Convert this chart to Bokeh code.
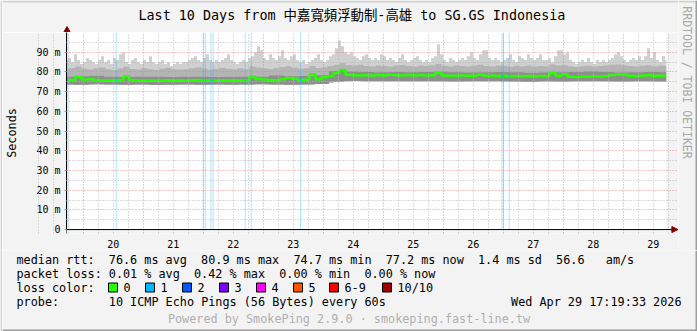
import numpy as np
from bokeh.plotting import figure
from bokeh.layouts import row, column
from bokeh.models import Range1d, FixedTicker, Label, Arrow, NormalHead, Span
from bokeh.embed import file_html
from bokeh.resources import INLINE

# ---------------- data ----------------
T_START = 19.7215          # Apr 19 17:19
T_END = 29.7215            # Apr 29 17:19

# top of the smoke (max ping), one value every 0.05 day
rtt_max = [86, 87, 85, 89, 86, 84, 85, 87, 86, 85, 84, 86, 88, 85, 86, 84, 87, 86, 89, 90,
           85, 84, 86, 87, 85, 84, 86, 85, 88, 85, 84, 85, 86, 84, 85, 83, 84, 85, 84, 85,
           85, 86, 87, 88, 86, 85, 87, 89, 86, 85, 86, 85, 86, 87, 89, 86, 85, 84, 85, 86,
           85, 87, 88, 90, 93, 91, 87, 86, 89, 87, 86, 88, 91, 87, 86, 88, 89, 86, 85, 86,
           84, 85, 86, 87, 89, 86, 85, 86, 88, 89, 92, 96, 93, 90, 89, 90, 88, 87, 86, 88,
           89, 87, 86, 87, 86, 89, 88, 86, 87, 86, 85, 87, 89, 86, 85, 86, 87, 88, 86, 85,
           86, 85, 87, 88, 94, 89, 86, 85, 87, 86, 85, 86, 87, 86, 88, 90, 87, 86, 89, 91,
           91, 87, 86, 87, 86, 85, 86, 87, 89, 86, 85, 88, 87, 86, 89, 87, 86, 87, 89, 86,
           86, 87, 85, 88, 91, 91, 89, 90, 86, 85, 84, 85, 86, 85, 87, 85, 84, 86, 85, 86,
           85, 86, 87, 89, 90, 88, 86, 85, 86, 87, 86, 88, 86, 88, 92, 87, 90, 86, 85, 88, 86]

# top of the medium smoke, one value every 0.1 day
smoke_hi = [81.5, 82.0, 82.8, 81.6, 81.2, 81.8, 82.3, 81.4, 81.0, 81.7,
            82.6, 81.5, 81.2, 81.9, 81.3, 81.0, 81.6, 82.1, 81.4, 81.2,
            81.3, 81.8, 82.4, 81.7, 81.2, 81.5, 82.0, 81.6, 81.3, 81.9,
            81.4, 82.8, 82.3, 81.8, 81.5, 82.0, 82.5, 82.9, 82.2, 81.6,
            81.8, 83.0, 82.0, 82.4, 83.0, 83.6, 84.5, 83.5, 83.2, 83.6,
            83.0, 82.8, 83.3, 83.0, 82.7, 83.2, 83.5, 83.0, 82.8, 83.3,
            83.0, 83.4, 84.0, 83.1, 82.8, 83.3, 83.0, 82.7, 83.1, 83.6,
            83.0, 82.8, 83.2, 83.0, 82.6, 83.1, 82.9, 83.3, 82.8, 83.0,
            82.9, 83.8, 83.2, 83.5, 82.7, 82.5, 82.9, 83.1, 82.7, 83.0,
            83.2, 83.6, 83.8, 83.4, 83.0, 82.8, 83.1, 83.4, 82.9, 83.2, 83.0]

# top of the dark smoke and bottom of the smoke, one value every 0.25 day
smoke_mid = [77.6, 77.8, 78.0, 77.5, 77.4, 77.6, 77.5, 77.4, 77.5, 77.6,
             77.4, 77.5, 77.5, 77.6, 78.2, 77.8, 77.9, 78.3, 80.5, 80.2,
             79.9, 79.8, 80.0, 79.8, 79.9, 80.1, 79.8, 79.7, 79.8, 79.9,
             79.8, 79.6, 79.7, 79.8, 80.0, 80.2, 79.9, 79.7, 79.8, 79.9, 79.8]
smoke_lo = [73.6, 73.5, 73.7, 73.6, 73.5, 73.6, 73.4, 73.5, 73.6, 73.5,
            73.6, 73.5, 73.6, 73.7, 73.6, 73.5, 73.6, 73.9, 75.0, 75.4,
            75.3, 75.2, 75.3, 75.2, 75.3, 75.2, 75.1, 75.2, 75.3, 75.2,
            75.1, 75.0, 75.2, 75.1, 75.2, 75.3, 75.2, 75.1, 75.2, 75.2, 75.1]

# median rtt, one value every 0.1 day
median_rtt = [75.8, 75.9, 77.5, 76.2, 76.3, 75.9, 75.6, 75.6, 75.7, 75.9,
              77.8, 75.8, 75.6, 75.5, 75.6, 75.5, 75.7, 75.8, 75.6, 75.6,
              75.7, 75.8, 75.9, 75.8, 75.6, 75.7, 75.8, 75.7, 75.8, 75.7,
              75.6, 77.6, 76.4, 76.1, 75.9, 75.8, 76.3, 76.9, 76.5, 75.9,
              76.0, 78.8, 76.3, 77.3, 77.9, 79.5, 81.0, 78.6, 78.3, 78.2,
              78.3, 78.2, 78.4, 78.3, 78.5, 78.3, 78.2, 78.4, 78.3, 78.4,
              78.2, 78.3, 79.6, 78.2, 78.1, 78.0, 78.2, 78.1, 78.0, 78.6,
              78.1, 78.0, 77.9, 78.0, 77.8, 77.9, 77.8, 77.9, 77.8, 77.9,
              77.9, 79.4, 78.0, 78.8, 77.5, 77.4, 77.5, 77.6, 77.8, 77.7,
              77.9, 78.4, 78.7, 78.6, 78.1, 77.9, 78.0, 78.3, 78.0, 78.1, 78.0]

# samples with packet loss (1/10)
loss_times = [19.745, 20.55, 22.00, 22.035, 22.13, 22.165, 22.70, 22.80, 23.62, 26.98, 27.005, 27.10]
loss_median = [75.8, 75.6, 75.8, 75.8, 75.6, 75.7, 75.7, 75.6, 76.0, 78.0, 78.0, 77.9]

day_ticks = [20, 21, 22, 23, 24, 25, 26, 27, 28, 29]
day_labels = ["20", "21", "22", "23", "24", "25", "26", "27", "28", "29"]
rtt_ticks = [0, 10, 20, 30, 40, 50, 60, 70, 80, 90]
rtt_labels = ["0", "10 m", "20 m", "30 m", "40 m", "50 m", "60 m", "70 m", "80 m", "90 m"]

title_text = "Last 10 Days from 中嘉寬頻浮動制-高雄 to SG.GS Indonesia"
rtt_stats = ["median rtt:", "76.6 ms avg", "80.9 ms max", "74.7 ms min", "77.2 ms now",
             "1.4 ms sd", "56.6", "am/s"]
loss_stats = ["packet loss:", "0.01 % avg", "0.42 % max", "0.00 % min", "0.00 % now"]
loss_names = ["0", "1", "2", "3", "4", "5", "6-9", "10/10"]
loss_colors = ["#26ff00", "#00b8ff", "#0059ff", "#7e00ff", "#ff00ff", "#ff5500", "#ff0000", "#a10000"]
probe_text = "10 ICMP Echo Pings (56 Bytes) every 60s"
date_text = "Wed Apr 29 17:19:33 2026"
footer_text = "Powered by SmokePing 2.9.0 · smokeping.fast-line.tw"
side_text = "RRDTOOL / TOBI OETIKER"

# ---------------- styling / layout positions ----------------
MONO = "DejaVu Sans Mono, Noto Sans CJK TC"
BG = "#f3f3f3"
SHADE_A = "#d2d2d2"
SHADE_B = "#9e9e9e"
TXT = "11.8px"
CHAR_W = 7.1          # monospace column width of the legend text
TEXT_X0 = 16
rtt_stats_col = [0, 13, 26, 39, 52, 65, 76, 83]
loss_stats_col = [0, 13, 25, 37, 49]
loss_box_x = np.array([108, 145, 182, 219, 256, 293, 329, 382])


def col_x(c):
    return TEXT_X0 + CHAR_W * c


def pixel_fig(w, h, x0, x1, y0, y1):
    """A figure whose data coordinates are page pixels (y downwards)."""
    f = figure(width=w, height=h, x_range=Range1d(x0, x1), y_range=Range1d(y1, y0),
               output_backend="svg", toolbar_location=None, min_border=0,
               x_axis_location=None, y_axis_location=None, frame_align=False,
               background_fill_color=BG, border_fill_color=BG, outline_line_color=None)
    f.grid.visible = False
    return f


def label(f, x, y, s, size=TXT, color="black", align="left", angle=0.0):
    f.add_layout(Label(x=x, y=y, text=s, text_font=MONO, text_font_size=size,
                       text_color=color, text_align=align, text_baseline="middle", angle=angle))


# ---------------- main chart ----------------
main = figure(width=676, height=218, x_range=Range1d(T_START, T_END + 0.2), y_range=Range1d(-2, 100),
              output_backend="svg", toolbar_location=None, frame_align=False,
              min_border_left=64, min_border_right=0, min_border_top=0, min_border_bottom=13,
              background_fill_color="white", border_fill_color=BG, outline_line_color=None)

t_max = T_START + 0.05 * np.arange(len(rtt_max))
t_hi = T_START + 0.1 * np.arange(len(smoke_hi))
t_mid = T_START + 0.25 * np.arange(len(smoke_mid))
t_med = T_START + 0.1 * np.arange(len(median_rtt))

lo_on_max = np.interp(t_max, t_mid, smoke_lo)
lo_on_hi = np.interp(t_hi, t_mid, smoke_lo)
main.varea_step(x=t_max, y1=lo_on_max, y2=rtt_max, step_mode="center", fill_color="#d0d0d0")
main.varea_step(x=t_hi, y1=lo_on_hi, y2=smoke_hi, step_mode="center", fill_color="#b4b4b4")
main.varea_step(x=t_mid, y1=smoke_lo, y2=smoke_mid, step_mode="center", fill_color="#8e8e8e")

main.vbar(x=loss_times, width=1 / 60, bottom=0, top=100, fill_color="#00b8ff", fill_alpha=0.35,
          line_color=None)

main.step(x=t_med, y=median_rtt, mode="center", line_color="#26ff00", line_width=2.5)
main.segment(x0=np.array(loss_times) - 1 / 120, x1=np.array(loss_times) + 1 / 120,
             y0=loss_median, y1=loss_median, line_color="#00b8ff", line_width=2.5)

# axes
main.xaxis.ticker = FixedTicker(ticks=[d + 0.5 for d in day_ticks])
main.xaxis.major_label_overrides = {d + 0.5: lab for d, lab in zip(day_ticks, day_labels)}
main.xaxis.major_tick_line_color = None
main.xaxis.minor_tick_line_color = None
main.xaxis.axis_line_color = None
main.xaxis.major_label_standoff = 0
main.yaxis.ticker = FixedTicker(ticks=rtt_ticks)
main.yaxis.major_label_overrides = {t: lab for t, lab in zip(rtt_ticks, rtt_labels)}
main.yaxis.minor_tick_line_color = None
main.yaxis.major_tick_out = 2
main.yaxis.major_tick_in = 0
main.yaxis.major_tick_line_color = "#999999"
main.yaxis.major_label_standoff = 4
main.yaxis.axis_line_color = "black"
main.yaxis.axis_label = "Seconds"
main.yaxis.axis_label_standoff = 14
main.yaxis.axis_label_text_font = MONO
main.yaxis.axis_label_text_font_size = TXT
main.yaxis.axis_label_text_font_style = "normal"
main.yaxis.axis_label_text_color = "black"
for ax in (main.xaxis, main.yaxis):
    ax.major_label_text_font = MONO
    ax.major_label_text_font_size = "10px"
    ax.major_label_text_color = "black"

# grids (drawn over the smoke, like rrdtool)
main.xgrid.ticker = FixedTicker(ticks=day_ticks,
                                minor_ticks=[d + q for d in range(19, 30) for q in (0.25, 0.5, 0.75)])
main.ygrid.ticker = FixedTicker(ticks=rtt_ticks[1:], minor_ticks=[5, 15, 25, 35, 45, 55, 65, 75, 85, 95])
for g in (main.xgrid, main.ygrid):
    g.grid_line_color = "#f08080"
    g.grid_line_alpha = 0.9
    g.grid_line_dash = "1 2"
    g.minor_grid_line_color = "#b8b8b8"
    g.minor_grid_line_dash = "1 2"
    g.level = "overlay"

# canvas colour outside the graph area (right of now, below zero)
main.quad(left=T_END, right=T_END + 0.2, bottom=-2, top=100, fill_color=BG, line_color=None, level="overlay")
main.quad(left=T_START, right=T_END + 0.2, bottom=-2, top=0, fill_color=BG, line_color=None, level="overlay")
main.add_layout(Span(location=0, dimension="width", line_color="black", line_width=1, level="overlay"))
main.add_layout(Arrow(end=NormalHead(size=6, fill_color="#800000", line_color="#800000"),
                      x_start=T_END + 0.08, y_start=0, x_end=T_END + 0.19, y_end=0,
                      line_color="black", level="overlay"))

# ---------------- title strip ----------------
top = pixel_fig(676, 32, 2, 678, 0, 32)
top.quad(left=2, right=678, top=0, bottom=2, fill_color=SHADE_A, line_color=None)
label(top, 138, 15, title_text, size="13.4px", align="left")
top.segment(x0=66.5, x1=66.5, y0=29, y1=32, line_color="black")
top.scatter(x=[66.5], y=[29.5], marker="triangle", size=6, fill_color="#800000", line_color="#800000")

# ---------------- right strip ----------------
side = pixel_fig(19, 250, 678, 697, 0, 250)
side.quad(left=678, right=697, top=0, bottom=2, fill_color=SHADE_A, line_color=None)
side.quad(left=695, right=697, top=0, bottom=250, fill_color=SHADE_B, line_color=None)
label(side, 686.5, 82, side_text, size="11.5px", color="#a8a8a8", align="center", angle=-np.pi / 2)

# ---------------- legend strip ----------------
leg = pixel_fig(695, 81, 2, 697, 250, 331)
leg.quad(left=2, right=697, top=329, bottom=331, fill_color=SHADE_B, line_color=None)
leg.quad(left=695, right=697, top=250, bottom=331, fill_color=SHADE_B, line_color=None)
for c, s in zip(rtt_stats_col, rtt_stats):
    label(leg, col_x(c), 259, s)
for c, s in zip(loss_stats_col, loss_stats):
    label(leg, col_x(c), 273, s)
label(leg, col_x(0), 287, "loss color:")
leg.quad(left=loss_box_x, right=loss_box_x + 9, top=282.5, bottom=291.5,
         fill_color=loss_colors, line_color="black")
for sx, name in zip(loss_box_x, loss_names):
    label(leg, sx + 15, 287, name)
label(leg, col_x(0), 301, "probe:")
label(leg, col_x(13), 301, probe_text)
label(leg, 681, 301, date_text, align="right")
label(leg, 348.5, 318, footer_text, color="#b0b0b0", align="center")

# ---------------- left shade ----------------
left = pixel_fig(2, 331, 0, 2, 0, 331)
left.quad(left=0, right=2, top=0, bottom=331, fill_color=SHADE_A, line_color=None)

layout = row(left, column(row(column(top, main), side), leg))
open("out.html", "w").write(file_html(layout, INLINE))
